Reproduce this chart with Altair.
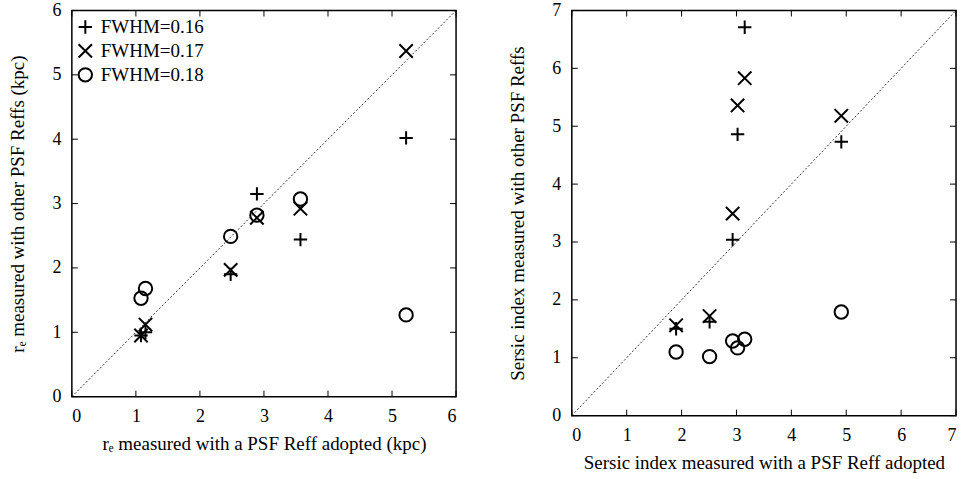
import altair as alt
import pandas as pd

FONT = "Liberation Serif"

series = ["FWHM=0.16", "FWHM=0.17", "FWHM=0.18"]
shapes = ["M-1,0L1,0M0,-1L0,1", "M-1,-1L1,1M-1,1L1,-1", "circle"]

# left panel: effective radius (kpc)
re_adopted = [1.08, 1.15, 2.48, 2.89, 3.57, 5.22]
re_016 = [0.95, 1.00, 1.90, 3.15, 2.44, 4.02]
re_017 = [0.95, 1.12, 1.97, 2.78, 2.92, 5.37]
re_018 = [1.53, 1.68, 2.49, 2.82, 3.07, 1.27]

# right panel: Sersic index
n_adopted = [1.90, 2.51, 2.93, 3.02, 3.15, 4.91]
n_016 = [1.50, 1.62, 3.04, 4.86, 6.71, 4.73]
n_017 = [1.56, 1.72, 3.49, 5.36, 5.83, 5.18]
n_018 = [1.10, 1.02, 1.29, 1.17, 1.32, 1.79]

left_ticks = [0, 1, 2, 3, 4, 5, 6]
right_ticks = [0, 1, 2, 3, 4, 5, 6, 7]

# inward tick glyphs: a short segment starting at the tick position
tick_up = "M0,0L0,-1"
tick_down = "M0,0L0,1"
tick_right = "M0,0L1,0"
tick_left = "M0,0L-1,0"


def panel(xvals, yseries, ticks, w, h, xtitle, ytitle, show_legend):
    dmax = ticks[-1]
    rows = []
    for name, ys in zip(series, yseries):
        for xv, yv in zip(xvals, ys):
            rows.append({"x": xv, "y": yv, "series": name})
    df = pd.DataFrame(rows)

    sx = alt.Scale(domain=[0, dmax], nice=False, zero=False)
    sy = alt.Scale(domain=[0, dmax], nice=False, zero=False)
    common = dict(values=ticks, ticks=False, domain=False, grid=False,
                  labelFont=FONT, labelFontSize=18, labelColor="black",
                  labelPadding=11,
                  titleFont=FONT, titleFontSize=19, titleFontWeight="normal",
                  titleColor="black")
    xaxis = alt.Axis(title=xtitle, titlePadding=9, **common)
    yaxis = alt.Axis(title=ytitle, titlePadding=24, **common)

    diag = alt.Chart(pd.DataFrame({"v": [0, dmax]})).mark_line(
        strokeDash=[2, 2], strokeWidth=1, color="#333333"
    ).encode(
        x=alt.X("v:Q", scale=sx, axis=xaxis),
        y=alt.Y("v:Q", scale=sy, axis=yaxis),
    )

    tdf = pd.DataFrame({"v": ticks, "lo": [0] * len(ticks), "hi": [dmax] * len(ticks)})

    def tick_layer(shape, xf, yf):
        return alt.Chart(tdf).mark_point(
            shape=shape, filled=False, size=144, strokeWidth=1,
            color="black", opacity=1
        ).encode(
            x=alt.X(xf, scale=sx, axis=xaxis),
            y=alt.Y(yf, scale=sy, axis=yaxis),
        )

    tb = tick_layer(tick_up, "v:Q", "lo:Q")
    tt = tick_layer(tick_down, "v:Q", "hi:Q")
    tl = tick_layer(tick_right, "lo:Q", "v:Q")
    tr = tick_layer(tick_left, "hi:Q", "v:Q")

    if show_legend:
        legend = alt.Legend(title=None, orient="none", legendX=4, legendY=7,
                            labelFont=FONT, labelFontSize=19, labelColor="black",
                            labelOffset=6, symbolSize=180,
                            symbolStrokeWidth=2, symbolStrokeColor="black",
                            symbolFillColor="transparent", rowPadding=1, padding=0)
    else:
        legend = None

    pts = alt.Chart(df).mark_point(filled=False, color="black", strokeWidth=2, size=180,
                                   opacity=1).encode(
        x=alt.X("x:Q", scale=sx, axis=xaxis),
        y=alt.Y("y:Q", scale=sy, axis=yaxis),
        shape=alt.Shape("series:N", scale=alt.Scale(domain=series, range=shapes),
                        legend=legend),
    )

    return alt.layer(pts, diag, tb, tt, tl, tr).properties(width=w, height=h)


left = panel(re_adopted, [re_016, re_017, re_018], left_ticks, 385, 387,
             "rₑ measured with a PSF Reff adopted (kpc)",
             "rₑ measured with other PSF Reffs (kpc)", True)
right = panel(n_adopted, [n_016, n_017, n_018], right_ticks, 385, 406,
              "Sersic index measured with a PSF Reff adopted",
              "Sersic index measured with other PSF Reffs", False)

chart = alt.hconcat(left, right, spacing=49).resolve_scale(
    shape="independent", x="independent", y="independent"
).configure_view(
    stroke="black", strokeWidth=1.5
).configure_legend(
    labelFont=FONT, labelFontSize=19
).properties(
    padding={"left": 8, "top": 0, "right": 5, "bottom": 0},
    background="white",
)

chart.save("out.html", embed_options={"renderer": "svg", "actions": False})
